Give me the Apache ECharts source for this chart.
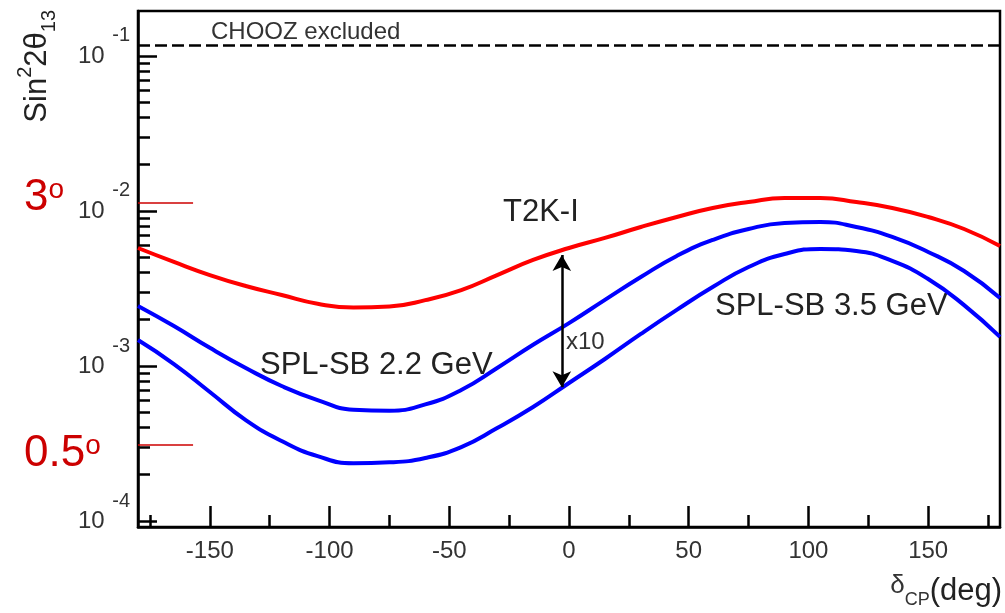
<!DOCTYPE html>
<html>
<head>
<meta charset="utf-8">
<script src="https://cdn.jsdelivr.net/npm/echarts@6/dist/echarts.min.js"></script>
<style>
  html, body { margin: 0; background: #fff; }
  #chart { width: 1005px; height: 613px; }
</style>
</head>
<body>
<div id="chart"></div>
<script>
// delta_CP sampling (deg)
const deltaCP = [-180, -165, -150, -135, -120, -105, -90, -75, -60, -45, -30, -15, 0,
  15, 30, 45, 60, 75, 90, 105, 120, 135, 150, 165, 180];

// sin^2 2theta13 sensitivity
const t2kI = [5.77e-3, 4.69e-3, 3.86e-3, 3.28e-3, 2.87e-3, 2.52e-3, 2.38e-3, 2.42e-3, 2.66e-3,
  3.09e-3, 3.86e-3, 4.83e-3, 5.77e-3, 6.70e-3, 7.88e-3, 9.15e-3, 1.046e-2, 1.143e-2, 1.213e-2,
  1.213e-2, 1.143e-2, 1.046e-2, 9.15e-3, 7.65e-3, 5.94e-3];
const splUpper = [2.44e-3, 1.81e-3, 1.31e-3, 9.71e-4, 7.43e-4, 6.03e-4, 5.22e-4, 5.15e-4, 5.65e-4,
  7.00e-4, 9.71e-4, 1.37e-3, 1.89e-3, 2.67e-3, 3.75e-3, 5.13e-3, 6.50e-3, 7.65e-3, 8.37e-3,
  8.49e-3, 7.88e-3, 6.80e-3, 5.44e-3, 4.10e-3, 2.75e-3];
const splLower = [1.47e-3, 1.03e-3, 6.80e-4, 4.48e-4, 3.28e-4, 2.62e-4, 2.36e-4, 2.39e-4, 2.55e-4,
  3.00e-4, 3.98e-4, 5.44e-4, 7.77e-4, 1.11e-3, 1.61e-3, 2.30e-3, 3.23e-3, 4.35e-3, 5.28e-3,
  5.69e-3, 5.52e-3, 4.76e-3, 3.64e-3, 2.47e-3, 1.54e-3];

// axis ticks
const xMajor = [-150, -100, -50, 0, 50, 100, 150];
const xMinor = [-175, -125, -75, -25, 25, 75, 125, 175];
const yMajor = [1e-4, 1e-3, 1e-2, 1e-1];
const yMinor = [];
yMajor.forEach(d => {
  for (let k = 2; k <= 9; k++) {
    if (d * k < 0.19) yMinor.push(d * k);
  }
});

// annotations
const choozLimit = 0.118;
const thetaMarks = [{ name: '3', value: 0.0113 }, { name: '0.5', value: 3.1e-4 }];
const arrowAt = -3;
const arrowRange = [5.2e-3, 7.3e-4];

const yMin = 9.15e-5;
const yMax = 0.195;
const FONT = 'Liberation Sans';

const toPairs = arr => deltaCP.map((d, i) => [d, arr[i]]);

const chart = echarts.init(document.getElementById('chart'));

const axisBase = {
  type: 'value',
  min: -180,
  max: 180,
  position: 'bottom',
  splitLine: { show: false }
};

const option = {
  backgroundColor: '#fff',
  animation: false,
  textStyle: { fontFamily: FONT },
  grid: {
    left: 138, right: 2, top: 11, bottom: 86,
    show: true, borderColor: '#000', borderWidth: 2.5
  },
  xAxis: [
    Object.assign({}, axisBase, {
      axisLine: { onZero: false, lineStyle: { color: '#000', width: 2.5 } },
      axisTick: { customValues: xMajor, inside: true, length: 21, lineStyle: { color: '#000', width: 2.5 } },
      axisLabel: { customValues: xMajor, margin: 12, fontSize: 24, color: '#333', fontFamily: FONT },
      name: '{d|δ}{c|CP}{p|(deg)}',
      nameLocation: 'end',
      nameGap: 2,
      nameTextStyle: {
        align: 'right', verticalAlign: 'top', padding: [46, 0, 0, 0],
        rich: {
          d: { fontSize: 26, color: '#333', fontFamily: FONT, lineHeight: 36, verticalAlign: 'top' },
          c: { fontSize: 18, color: '#333', fontFamily: FONT, lineHeight: 36, verticalAlign: 'bottom' },
          p: { fontSize: 31, color: '#222', fontFamily: FONT, lineHeight: 36 }
        }
      }
    }),
    Object.assign({}, axisBase, {
      axisLine: { show: false, onZero: false },
      axisTick: { customValues: xMinor, inside: true, length: 12, lineStyle: { color: '#000', width: 2.5 } },
      axisLabel: { show: false }
    })
  ],
  yAxis: [
    {
      type: 'log',
      min: yMin,
      max: yMax,
      position: 'left',
      splitLine: { show: false },
      axisLine: { onZero: false, lineStyle: { color: '#000', width: 2.5 } },
      axisTick: { customValues: yMajor, inside: true, length: 19, lineStyle: { color: '#000', width: 2.5 } },
      axisLabel: {
        customValues: yMajor,
        margin: 8,
        formatter: v => '{s|' + Math.round(Math.log10(v)) + '}\n{b|10}\n{e| }',
        rich: {
          s: { fontSize: 20, lineHeight: 20, width: 52, align: 'right', color: '#333', fontFamily: FONT },
          b: { fontSize: 24, lineHeight: 20, width: 52, align: 'left', color: '#333', fontFamily: FONT },
          e: { fontSize: 10, lineHeight: 20, width: 52 }
        }
      }
    },
    {
      type: 'log',
      min: yMin,
      max: yMax,
      position: 'left',
      splitLine: { show: false },
      axisLine: { show: false, onZero: false },
      axisTick: { customValues: yMinor, inside: true, length: 12, lineStyle: { color: '#000', width: 2.5 } },
      axisLabel: { show: false }
    }
  ],
  series: [
    {
      name: 'T2K-I',
      type: 'line',
      data: toPairs(t2kI),
      smooth: true,
      showSymbol: false,
      lineStyle: { color: '#ff0000', width: 4 },
      markLine: {
        silent: true,
        symbol: 'none',
        label: { show: false },
        data: [
          [{ coord: [-180, choozLimit], lineStyle: { color: '#000', width: 2.5, type: [12, 5] } },
           { coord: [180, choozLimit] }]
        ].concat(thetaMarks.map(m => [
          { coord: [-180, m.value], lineStyle: { color: '#cc0000', width: 1.5, type: 'solid' } },
          { coord: [-157, m.value] }
        ]))
      }
    },
    {
      name: 'SPL-SB upper',
      type: 'line',
      data: toPairs(splUpper),
      smooth: true,
      showSymbol: false,
      lineStyle: { color: '#0000ff', width: 4 }
    },
    {
      name: 'SPL-SB lower',
      type: 'line',
      data: toPairs(splLower),
      smooth: true,
      showSymbol: false,
      lineStyle: { color: '#0000ff', width: 4 },
      markLine: {
        silent: true,
        symbol: ['arrow', 'arrow'],
        symbolSize: [14, 16],
        label: { show: false },
        lineStyle: { color: '#000', width: 2.5, type: 'solid' },
        data: [[{ coord: [arrowAt, arrowRange[0]] }, { coord: [arrowAt, arrowRange[1]] }]]
      }
    }
  ],
  graphic: [
    {
      type: 'text', x: 37, y: 10, rotation: Math.PI / 2,
      style: {
        text: 'Sin{sup|2}2θ{sub|13}',
        align: 'right', verticalAlign: 'middle',
        font: '31px ' + FONT, fill: '#222',
        rich: {
          sup: { fontSize: 20, lineHeight: 44, verticalAlign: 'top', fill: '#222' },
          sub: { fontSize: 20, lineHeight: 44, verticalAlign: 'bottom', fill: '#222' }
        }
      }
    },
    {
      type: 'text', x: 24, y: 198,
      style: {
        text: thetaMarks[0].name + '{o|o}', verticalAlign: 'middle',
        font: '44px ' + FONT, fill: '#cc0000',
        rich: { o: { fontSize: 28, lineHeight: 44, verticalAlign: 'top', fill: '#cc0000' } }
      }
    },
    {
      type: 'text', x: 24, y: 454,
      style: {
        text: thetaMarks[1].name + '{o|o}', verticalAlign: 'middle',
        font: '44px ' + FONT, fill: '#cc0000',
        rich: { o: { fontSize: 28, lineHeight: 44, verticalAlign: 'top', fill: '#cc0000' } }
      }
    },
    { type: 'text', x: 211, y: 32, style: { text: 'CHOOZ excluded', verticalAlign: 'middle', font: '24px ' + FONT, fill: '#333' } },
    { type: 'text', x: 503, y: 212, style: { text: 'T2K-I', verticalAlign: 'middle', font: '31px ' + FONT, fill: '#222' } },
    { type: 'text', x: 260, y: 365, style: { text: 'SPL-SB 2.2 GeV', verticalAlign: 'middle', font: '31px ' + FONT, fill: '#222' } },
    { type: 'text', x: 715, y: 306, style: { text: 'SPL-SB 3.5 GeV', verticalAlign: 'middle', font: '31px ' + FONT, fill: '#222' } },
    { type: 'text', x: 566, y: 342, style: { text: 'x10', verticalAlign: 'middle', font: '24px ' + FONT, fill: '#333' } }
  ]
};

chart.setOption(option);
</script>
</body>
</html>
